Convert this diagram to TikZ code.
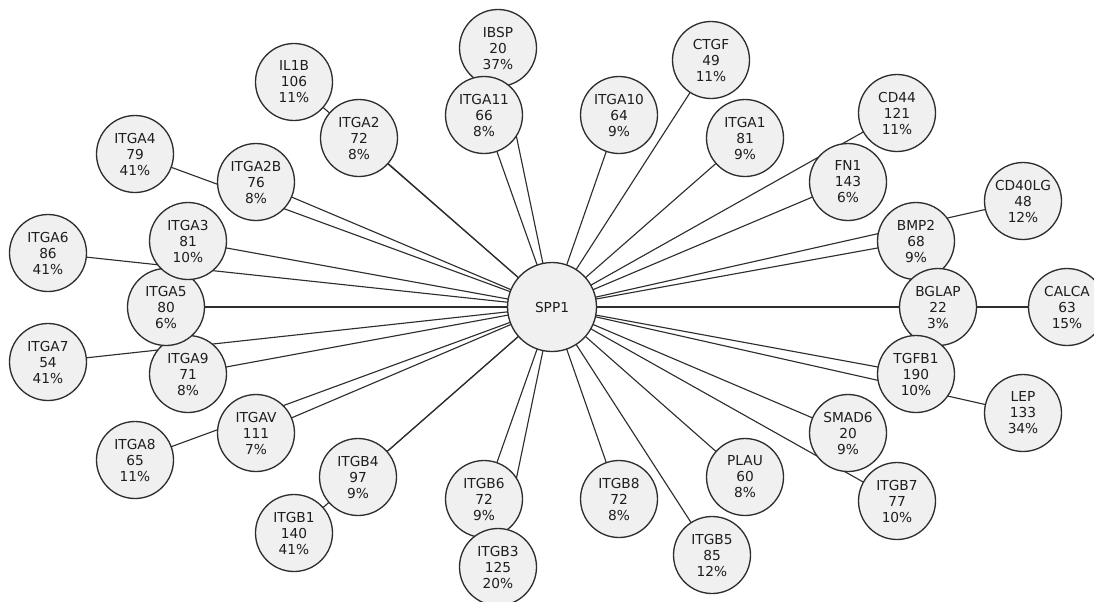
\documentclass[tikz,border=0pt]{standalone}
\usepackage{fontspec}
\setmainfont{DejaVu Sans}
\usetikzlibrary{backgrounds}
\definecolor{nodefill}{HTML}{F0F0F0}
\definecolor{rimgray}{HTML}{2E2E2E}
\definecolor{txtgray}{HTML}{1E1E1E}

\begin{document}
\begin{tikzpicture}[x=0.75pt,y=-0.75pt,line width=.85pt,
  gene/.style={circle,draw=rimgray,line width=1pt,fill=nodefill,text=txtgray,
    inner sep=0pt,minimum size=57.75pt,align=center,
    font=\fontsize{10.3}{12}\selectfont},
  hub/.style={gene,minimum size=66.75pt},
  link/.style={draw=rimgray,line width=.85pt}]
\useasboundingbox (0,0) rectangle (1094,601);
\node[hub] (spp1) at (552,307) {SPP1};
\node[gene] (il1b) at (294,82) {IL1B\\106\\11\%};
\node[gene] (itga2) at (359,138) {ITGA2\\72\\8\%};
\node[gene] (itga4) at (135,154) {ITGA4\\79\\41\%};
\node[gene] (itga2b) at (256,182) {ITGA2B\\76\\8\%};
\node[gene] (ibsp) at (498,48) {IBSP\\20\\37\%};
\node[gene] (itga11) at (484,115) {ITGA11\\66\\8\%};
\node[gene] (itga10) at (619,115) {ITGA10\\64\\9\%};
\node[gene] (ctgf) at (711,60) {CTGF\\49\\11\%};
\node[gene] (itga1) at (745,138) {ITGA1\\81\\9\%};
\node[gene] (cd44) at (897,113) {CD44\\121\\11\%};
\node[gene] (fn1) at (848,182) {FN1\\143\\6\%};
\node[gene] (cd40lg) at (1023,201) {CD40LG\\48\\12\%};
\node[gene] (bmp2) at (916,241) {BMP2\\68\\9\%};
\node[gene] (bglap) at (938,307) {BGLAP\\22\\3\%};
\node[gene] (calca) at (1067,307) {CALCA\\63\\15\%};
\node[gene] (tgfb1) at (916,374) {TGFB1\\190\\10\%};
\node[gene] (lep) at (1023,413) {LEP\\133\\34\%};
\node[gene] (smad6) at (848,433) {SMAD6\\20\\9\%};
\node[gene] (itgb7) at (897,501) {ITGB7\\77\\10\%};
\node[gene] (plau) at (745,477) {PLAU\\60\\8\%};
\node[gene] (itgb5) at (712,555) {ITGB5\\85\\12\%};
\node[gene] (itgb8) at (619,499) {ITGB8\\72\\8\%};
\node[gene] (itgb6) at (484,499) {ITGB6\\72\\9\%};
\node[gene] (itgb3) at (498,567) {ITGB3\\125\\20\%};
\node[gene] (itgb4) at (358,477) {ITGB4\\97\\9\%};
\node[gene] (itgb1) at (294,533) {ITGB1\\140\\41\%};
\node[gene] (itgav) at (256,433) {ITGAV\\111\\7\%};
\node[gene] (itga8) at (135,460) {ITGA8\\65\\11\%};
\node[gene] (itga9) at (188,374) {ITGA9\\71\\8\%};
\node[gene] (itga5) at (166,307) {ITGA5\\80\\6\%};
\node[gene] (itga3) at (188,241) {ITGA3\\81\\10\%};
\node[gene] (itga6) at (48,253) {ITGA6\\86\\41\%};
\node[gene] (itga7) at (48,362) {ITGA7\\54\\41\%};
\begin{scope}[on background layer]
\draw[link] (spp1.center)--(il1b.center);
\draw[link] (spp1.center)--(itga2.center);
\draw[link] (spp1.center)--(itga4.center);
\draw[link] (spp1.center)--(itga2b.center);
\draw[link] (spp1.center)--(ibsp.center);
\draw[link] (spp1.center)--(itga11.center);
\draw[link] (spp1.center)--(itga10.center);
\draw[link] (spp1.center)--(ctgf.center);
\draw[link] (spp1.center)--(itga1.center);
\draw[link] (spp1.center)--(cd44.center);
\draw[link] (spp1.center)--(fn1.center);
\draw[link] (spp1.center)--(cd40lg.center);
\draw[link] (spp1.center)--(bmp2.center);
\draw[link] (spp1.center)--(bglap.center);
\draw[link] (spp1.center)--(calca.center);
\draw[link] (spp1.center)--(tgfb1.center);
\draw[link] (spp1.center)--(lep.center);
\draw[link] (spp1.center)--(smad6.center);
\draw[link] (spp1.center)--(itgb7.center);
\draw[link] (spp1.center)--(plau.center);
\draw[link] (spp1.center)--(itgb5.center);
\draw[link] (spp1.center)--(itgb8.center);
\draw[link] (spp1.center)--(itgb6.center);
\draw[link] (spp1.center)--(itgb3.center);
\draw[link] (spp1.center)--(itgb4.center);
\draw[link] (spp1.center)--(itgb1.center);
\draw[link] (spp1.center)--(itgav.center);
\draw[link] (spp1.center)--(itga8.center);
\draw[link] (spp1.center)--(itga9.center);
\draw[link] (spp1.center)--(itga5.center);
\draw[link] (spp1.center)--(itga3.center);
\draw[link] (spp1.center)--(itga6.center);
\draw[link] (spp1.center)--(itga7.center);
\end{scope}
\end{tikzpicture}
\end{document}
